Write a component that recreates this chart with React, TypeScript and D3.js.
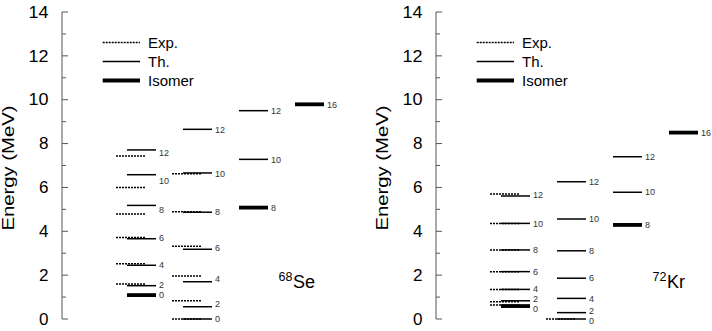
import React, { useEffect, useRef } from 'react';
import * as d3 from 'd3';

// 68Se levels (MeV), one array per band / column
const seBand1Spin = [0, 2, 4, 6, 8, 10, 12];
const seBand1Th = [1.09, 1.52, 2.45, 3.66, 5.18, 6.58, 7.71];
const seBand1Exp = [null, 1.6, 2.52, 3.72, 4.79, 6.0, 7.43];
const seBand2Spin = [0, 2, 4, 6, 8, 10, 12];
const seBand2Th = [0, 0.56, 1.7, 3.18, 4.87, 6.66, 8.65];
const seBand2Exp = [0, 0.83, 1.96, 3.32, 4.89, 6.62, null];
const seBand3Spin = [8, 10, 12];
const seBand3Th = [5.08, 7.28, 9.5];
const seBand4Spin = [16];
const seBand4Th = [9.79];
const seIsomers = [[0], [], [8], [16]];

// 72Kr levels (MeV)
const krBand1Spin = [0, 2, 4, 6, 8, 10, 12];
const krBand1Th = [0.59, 0.83, 1.35, 2.16, 3.15, 4.36, 5.61];
const krBand1Exp = [0.64, 0.79, 1.35, 2.16, 3.15, 4.36, 5.7];
const krBand2Spin = [0, 2, 4, 6, 8, 10, 12];
const krBand2Th = [0, 0.29, 0.94, 1.86, 3.11, 4.56, 6.26];
const krBand2Exp = [0, null, null, null, null, null, null];
const krBand3Spin = [8, 10, 12];
const krBand3Th = [4.29, 5.78, 7.4];
const krBand4Spin = [16];
const krBand4Th = [8.5];
const krIsomers = [[0], [], [8], [16]];

const yTicks = [0, 2, 4, 6, 8, 10, 12, 14];
const legendLabels = ['Exp.', 'Th.', 'Isomer'];

type Band = { spin: number[]; th: number[]; exp: (number | null)[] };

const panels = [
  {
    axisX: 62,
    mass: '68',
    elem: 'Se',
    isomers: seIsomers,
    bands: [
      { spin: seBand1Spin, th: seBand1Th, exp: seBand1Exp },
      { spin: seBand2Spin, th: seBand2Th, exp: seBand2Exp },
      { spin: seBand3Spin, th: seBand3Th, exp: [] },
      { spin: seBand4Spin, th: seBand4Th, exp: [] },
    ] as Band[],
  },
  {
    axisX: 436,
    mass: '72',
    elem: 'Kr',
    isomers: krIsomers,
    bands: [
      { spin: krBand1Spin, th: krBand1Th, exp: krBand1Exp },
      { spin: krBand2Spin, th: krBand2Th, exp: krBand2Exp },
      { spin: krBand3Spin, th: krBand3Th, exp: [] },
      { spin: krBand4Spin, th: krBand4Th, exp: [] },
    ] as Band[],
  },
];

const FONT = '"Liberation Sans", Arial, Helvetica, sans-serif';
const MIN_GAP = 10.5; // min vertical distance between spin labels

export default function App() {
  const ref = useRef<SVGSVGElement>(null);

  useEffect(() => {
    const svg = d3.select(ref.current);
    svg.selectAll('*').remove();

    const y = d3.scaleLinear().domain([0, 14]).range([319, 12]);

    panels.forEach(p => {
      const g = svg.append('g');
      const ax = p.axisX;

      // axis line + ticks (inward)
      g.append('line')
        .attr('x1', ax).attr('x2', ax)
        .attr('y1', y(14)).attr('y2', y(0))
        .attr('stroke', '#555').attr('stroke-width', 1);
      d3.range(0, 15).forEach(v => {
        g.append('line')
          .attr('x1', ax).attr('x2', ax + (v % 2 === 0 ? 6 : 4))
          .attr('y1', y(v)).attr('y2', y(v))
          .attr('stroke', '#555').attr('stroke-width', 1);
      });
      g.selectAll('text.tick')
        .data(yTicks)
        .enter()
        .append('text')
        .attr('class', 'tick')
        .attr('x', ax - 13.5)
        .attr('y', d => y(d))
        .attr('dy', '0.36em')
        .attr('text-anchor', 'end')
        .attr('font-family', FONT)
        .attr('font-size', 16)
        .attr('textLength', d => (d >= 10 ? 20 : 9.5))
        .attr('lengthAdjust', 'spacingAndGlyphs')
        .text(d => d);

      g.append('text')
        .attr('transform', `translate(${ax - 48},168) rotate(-90)`)
        .attr('text-anchor', 'middle')
        .attr('font-family', FONT)
        .attr('font-size', 17)
        .attr('textLength', 125)
        .attr('lengthAdjust', 'spacingAndGlyphs')
        .text('Energy (MeV)');

      // legend
      legendLabels.forEach((lab, i) => {
        const ly = 42.5 + i * 19;
        g.append('line')
          .attr('x1', ax + 40.7).attr('x2', ax + 78)
          .attr('y1', ly).attr('y2', ly)
          .attr('stroke', '#000')
          .attr('stroke-width', i === 2 ? 3.8 : 1.5)
          .attr('stroke-dasharray', i === 0 ? '2,1' : null);
        g.append('text')
          .attr('x', ax + 86)
          .attr('y', ly)
          .attr('dy', '0.36em')
          .attr('font-family', FONT)
          .attr('font-size', 15)
          .text(lab);
      });

      // levels
      const x = d3.scaleLinear().domain([0, 3]).range([ax + 65, ax + 233]);
      const lw = 29;
      p.bands.forEach((b, ci) => {
        const x0 = x(ci);
        b.exp.forEach(e => {
          if (e == null) return;
          g.append('line')
            .attr('x1', x0 - 11).attr('x2', x0 - 11 + lw)
            .attr('y1', y(e)).attr('y2', y(e))
            .attr('stroke', '#000').attr('stroke-width', 1.5)
            .attr('stroke-dasharray', '2,1');
        });

        // label positions: mean of th/exp, then pushed apart if too close
        const ly = b.th.map((t, i) => {
          const e = b.exp[i];
          return y(e == null ? t : (t + e) / 2);
        });
        for (let i = 1; i < ly.length; i++) {
          const gap = ly[i - 1] - ly[i];
          if (gap < MIN_GAP) {
            const d = (MIN_GAP - gap) / 2;
            ly[i - 1] += d;
            ly[i] -= d;
          }
        }

        b.th.forEach((t, i) => {
          const iso = p.isomers[ci].includes(b.spin[i]);
          g.append('line')
            .attr('x1', x0).attr('x2', x0 + lw)
            .attr('y1', y(t)).attr('y2', y(t))
            .attr('stroke', '#000').attr('stroke-width', iso ? 3.8 : 1.5);
          g.append('text')
            .attr('x', x0 + lw + 3)
            .attr('y', ly[i])
            .attr('dy', '0.36em')
            .attr('font-family', FONT)
            .attr('font-size', 9)
            .attr('fill', '#333')
            .text(b.spin[i]);
        });
      });

      // nucleus label
      g.append('text')
        .attr('x', ax + 230.5).attr('y', 281)
        .attr('text-anchor', 'end')
        .attr('font-family', FONT)
        .attr('font-size', 12.5)
        .text(p.mass);
      g.append('text')
        .attr('x', ax + 231).attr('y', 287.5)
        .attr('font-family', FONT)
        .attr('font-size', 18)
        .text(p.elem);
    });
  }, []);

  return (
    <svg
      ref={ref}
      width={712}
      height={331}
      style={{ position: 'absolute', left: 0, top: 0, background: '#fff' }}
    />
  );
}
